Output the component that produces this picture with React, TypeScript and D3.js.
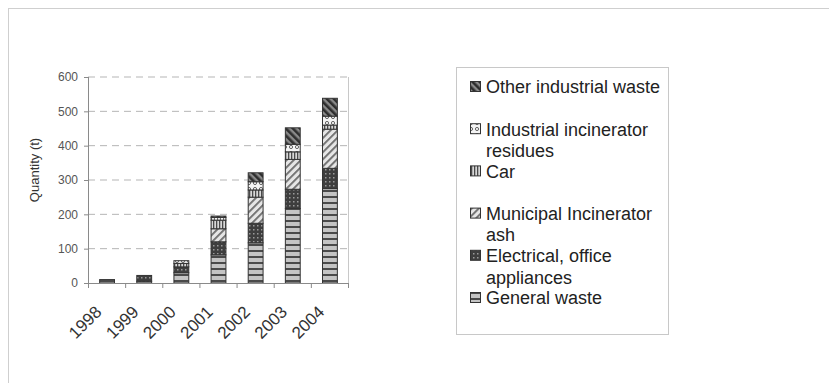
import React from 'react';
import * as d3 from 'd3';

const years = ['1998', '1999', '2000', '2001', '2002', '2003', '2004'];
const generalWaste = [10, 5, 30, 82, 117, 217, 275];
const electricalAppliances = [0, 17, 17, 38, 57, 56, 59];
const municipalAsh = [0, 0, 0, 38, 76, 87, 114];
const car = [0, 0, 10, 25, 21, 22, 12];
const industrialResidues = [0, 0, 8, 8, 24, 22, 26];
const otherIndustrial = [0, 0, 0, 4, 26, 48, 52];
const yTicks = [0, 100, 200, 300, 400, 500, 600];

const seriesKeys = ['general', 'electrical', 'municipal', 'car', 'industrial', 'other'];
const seriesValues: Record<string, number[]> = {
  general: generalWaste,
  electrical: electricalAppliances,
  municipal: municipalAsh,
  car: car,
  industrial: industrialResidues,
  other: otherIndustrial,
};
const legendEntries = [
  { key: 'other', lines: ['Other industrial waste'] },
  { key: 'industrial', lines: ['Industrial incinerator', 'residues'] },
  { key: 'car', lines: ['Car'] },
  { key: 'municipal', lines: ['Municipal Incinerator', 'ash'] },
  { key: 'electrical', lines: ['Electrical, office', 'appliances'] },
  { key: 'general', lines: ['General waste'] },
];

const W = 829;
const H = 383;
const plot = { left: 88, right: 348, top: 77, bottom: 283 };

export default function App() {
  const x = d3.scaleBand<string>().domain(years).range([plot.left, plot.right]).paddingInner(0.6).paddingOuter(0.3);
  const y = d3.scaleLinear().domain([0, 600]).range([plot.bottom, plot.top]);
  const table = years.map((yr, i) => {
    const row: any = { year: yr };
    seriesKeys.forEach((k) => (row[k] = seriesValues[k][i]));
    return row;
  });
  const stacked = d3.stack<any>().keys(seriesKeys)(table);
  const step = x.step();
  const font = '"Liberation Sans", Arial, sans-serif';

  return (
    <svg width={W} height={H} style={{ position: 'absolute', left: 0, top: 0, background: '#fff' }}>
      <defs>
        <pattern id="p-general" width="6" height="6" patternUnits="userSpaceOnUse">
          <rect width="6" height="6" fill="#c4c4c4" />
          <rect y="4" width="6" height="2" fill="#4a4a4a" />
        </pattern>
        <pattern id="p-electrical" width="4" height="4" patternUnits="userSpaceOnUse">
          <rect width="4" height="4" fill="#3e3e3e" />
          <rect x="1" y="1" width="1.5" height="1.5" fill="#9a9a9a" />
        </pattern>
        <pattern id="p-municipal" width="5" height="5" patternUnits="userSpaceOnUse" patternTransform="rotate(45)">
          <rect width="5" height="5" fill="#e6e6e6" />
          <rect width="1.8" height="5" fill="#6a6a6a" />
        </pattern>
        <pattern id="p-car" width="3" height="3" patternUnits="userSpaceOnUse">
          <rect width="3" height="3" fill="#d8d8d8" />
          <rect width="1.3" height="3" fill="#4a4a4a" />
        </pattern>
        <pattern id="p-industrial" width="6" height="6" patternUnits="userSpaceOnUse">
          <rect width="6" height="6" fill="#f4f4f4" />
          <circle cx="3" cy="3" r="1.6" fill="none" stroke="#555" strokeWidth="0.9" />
        </pattern>
        <pattern id="p-other" width="5" height="5" patternUnits="userSpaceOnUse" patternTransform="rotate(-45)">
          <rect width="5" height="5" fill="#8a8a8a" />
          <rect width="2.6" height="5" fill="#2e2e2e" />
        </pattern>
      </defs>

      {/* outer chart border */}
      <rect x={8.5} y={8.5} width={W + 20} height={H + 20} fill="none" stroke="#cfcfcf" />

      {/* gridlines */}
      {yTicks.filter((t) => t > 0).map((t) => (
        <line key={'g' + t} x1={plot.left} x2={plot.right} y1={y(t)} y2={y(t)} stroke="#b5b5b5" strokeDasharray="7,5" />
      ))}
      <line x1={plot.right + 0.5} x2={plot.right + 0.5} y1={plot.top} y2={plot.bottom} stroke="#c8c8c8" />

      {/* bars */}
      {stacked.map((layer) => (
        <g key={layer.key}>
          {layer.map((d, i) => {
            const h = y(d[0]) - y(d[1]);
            if (h <= 0) return null;
            return (
              <rect
                key={i}
                x={(x(years[i]) as number) + 0.5}
                y={y(d[1])}
                width={x.bandwidth()}
                height={h}
                fill={`url(#p-${layer.key})`}
                stroke="#333"
                strokeWidth={1}
              />
            );
          })}
        </g>
      ))}

      {/* y axis */}
      <line x1={plot.left + 0.5} x2={plot.left + 0.5} y1={plot.top} y2={plot.bottom} stroke="#8a8a8a" />
      {yTicks.map((t) => (
        <g key={'yt' + t}>
          <line x1={plot.left - 4} x2={plot.left} y1={y(t) + 0.5} y2={y(t) + 0.5} stroke="#8a8a8a" />
          <text x={plot.left - 10} y={y(t)} dy="0.35em" textAnchor="end" fontFamily={font} fontSize={12} fill="#555">
            {t}
          </text>
        </g>
      ))}
      <text
        transform={`translate(34,${(plot.top + plot.bottom) / 2 - 10}) rotate(-90)`}
        textAnchor="middle"
        dy="0.35em"
        fontFamily={font}
        fontSize={13}
        fill="#333"
      >
        Quantity (t)
      </text>

      {/* x axis */}
      <line x1={plot.left} x2={plot.right} y1={plot.bottom + 0.5} y2={plot.bottom + 0.5} stroke="#8a8a8a" />
      {d3.range(years.length + 1).map((i) => (
        <line
          key={'xt' + i}
          x1={plot.left + i * step + 0.5}
          x2={plot.left + i * step + 0.5}
          y1={plot.bottom}
          y2={plot.bottom + 5}
          stroke="#8a8a8a"
        />
      ))}
      {years.map((yr) => {
        const cx = (x(yr) as number) + x.bandwidth() / 2;
        return (
          <text
            key={'xl' + yr}
            transform={`translate(${cx - 4},${plot.bottom + 30}) rotate(-45)`}
            textAnchor="end"
            fontFamily={font}
            fontSize={17}
            fill="#333"
          >
            {yr}
          </text>
        );
      })}

      {/* legend */}
      <rect x={456.5} y={67.5} width={212} height={267} fill="#fff" stroke="#c8c8c8" />
      {legendEntries.map((e, i) => {
        const cy = 87 + i * 42.2;
        return (
          <g key={'lg' + e.key}>
            <rect x={470.5} y={cy - 5.5} width={10} height={10} fill={`url(#p-${e.key})`} stroke="#333" />
            {e.lines.map((ln, j) => (
              <text key={j} x={486} y={cy + j * 21.5} dy="0.35em" fontFamily={font} fontSize={18} fill="#222">
                {ln}
              </text>
            ))}
          </g>
        );
      })}
    </svg>
  );
}
